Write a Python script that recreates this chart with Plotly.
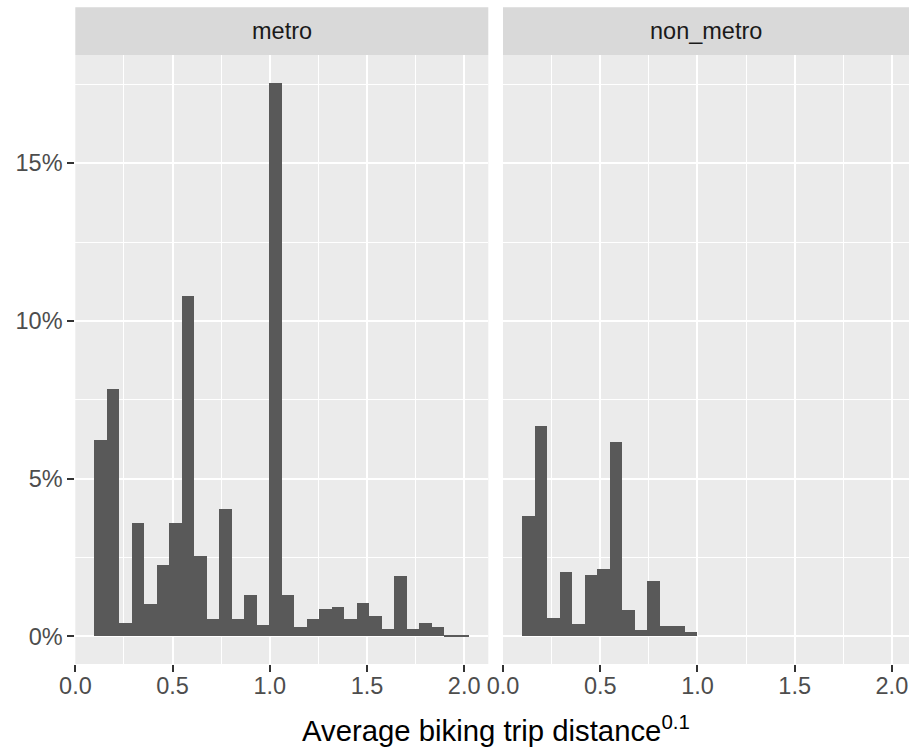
import plotly.graph_objects as go

# Histogram of average biking trip distance (transformed ^0.1), share of all areas in %
bin_start = 0.0975
bin_width = 0.06434

metro_pct = [6.23, 7.85, 0.42, 3.59, 1.01, 2.25, 3.59, 10.79, 2.55, 0.55,
             4.04, 0.55, 1.32, 0.37, 17.55, 1.32, 0.29, 0.55, 0.87, 0.94,
             0.55, 1.07, 0.63, 0.23, 1.91, 0.23, 0.42, 0.30, 0.05, 0.04]
non_metro_pct = [3.80, 6.68, 0.57, 2.05, 0.38, 1.93, 2.12, 6.17, 0.84, 0.19,
                 1.74, 0.32, 0.32, 0.13]

panels = ["metro", "non_metro"]
x_ticks = [0.0, 0.5, 1.0, 1.5, 2.0]
x_tick_labels = ["0.0", "0.5", "1.0", "1.5", "2.0"]
x_minor = [0.25, 0.75, 1.25, 1.75]
y_ticks = [0, 5, 10, 15]
y_tick_labels = ["0%", "5%", "10%", "15%"]
y_minor = [2.5, 7.5, 12.5, 17.5]

W, H = 909, 750
BAR = "#595959"
PANEL_BG = "#EBEBEB"
STRIP_BG = "#D9D9D9"
FONT = "Liberation Sans"


def centers(n):
    return [bin_start + bin_width * (i + 0.5) for i in range(n)]


fig = go.Figure()
fig.add_trace(go.Bar(x=centers(len(metro_pct)), y=metro_pct, width=bin_width,
                     marker=dict(color=BAR, line=dict(width=0)),
                     xaxis="x", yaxis="y", showlegend=False))
fig.add_trace(go.Bar(x=centers(len(non_metro_pct)), y=non_metro_pct, width=bin_width,
                     marker=dict(color=BAR, line=dict(width=0)),
                     xaxis="x2", yaxis="y2", showlegend=False))

# panel geometry in pixels
left1, right1 = 75.3, 488.3
left2, right2 = 503.0, 909.0
top, bottom = 55.0, 664.0
strip_top = 7.3

x_lo = -0.0005
x_hi = 2.1242
px_per_unit = (right1 - left1) / (x_hi - x_lo)
x_range1 = [x_lo, x_hi]
x_range2 = [x_lo, x_lo + (right2 - left2) / px_per_unit]
y_range = [-0.8775, 18.43]

tick_font = dict(family=FONT, size=23.5, color="#4D4D4D")

xcommon = dict(
    tickvals=x_ticks, ticktext=x_tick_labels,
    showgrid=True, gridcolor="white", gridwidth=2.2,
    minor=dict(tickvals=x_minor, showgrid=True, gridcolor="white", gridwidth=1.1, ticks=""),
    zeroline=False, showline=False,
    ticks="outside", ticklen=7, tickwidth=2.1, tickcolor="#333333",
    tickfont=tick_font, ticklabelstandoff=-6, automargin=False,
)
ycommon = dict(
    range=y_range, domain=[1 - bottom / H, 1 - top / H],
    tickvals=y_ticks, ticktext=y_tick_labels,
    showgrid=True, gridcolor="white", gridwidth=2.2,
    minor=dict(tickvals=y_minor, showgrid=True, gridcolor="white", gridwidth=1.1, ticks=""),
    zeroline=False, showline=False,
    tickfont=tick_font, automargin=False,
)

fig.update_layout(
    width=W, height=H,
    margin=dict(l=0, r=0, t=0, b=0, autoexpand=False),
    paper_bgcolor="white", plot_bgcolor=PANEL_BG,
    bargap=0,
    xaxis=dict(xcommon, domain=[left1 / W, right1 / W], range=x_range1, anchor="y"),
    xaxis2=dict(xcommon, domain=[left2 / W, right2 / W], range=x_range2, anchor="y2"),
    yaxis=dict(ycommon, anchor="x", ticks="outside", ticklen=7, tickwidth=2.1,
               tickcolor="#333333", showticklabels=True),
    yaxis2=dict(ycommon, anchor="x2", ticks="", showticklabels=False),
)

# facet strips
for (l, r), name in zip([(left1, right1), (left2, right2)], panels):
    fig.add_shape(type="rect", xref="paper", yref="paper",
                  x0=l / W, x1=r / W, y0=1 - top / H, y1=1 - strip_top / H,
                  fillcolor=STRIP_BG, line=dict(width=0), layer="below")
    fig.add_annotation(xref="paper", yref="paper",
                       x=(l + r) / 2 / W, y=1 - (top + strip_top) / 2 / H,
                       text=name, showarrow=False, xanchor="center", yanchor="middle",
                       font=dict(family=FONT, size=23.5, color="#1A1A1A"))

# shared x-axis title
full_right = left2 + (x_hi - x_lo) * px_per_unit
fig.add_annotation(xref="paper", yref="paper",
                   x=(left1 + full_right) / 2 / W, y=1 - 728 / H,
                   text="Average biking trip distance<sup>0.1</sup>", showarrow=False,
                   xanchor="center", yanchor="middle",
                   font=dict(family=FONT, size=29.3, color="black"))

fig.write_html("out.html")
